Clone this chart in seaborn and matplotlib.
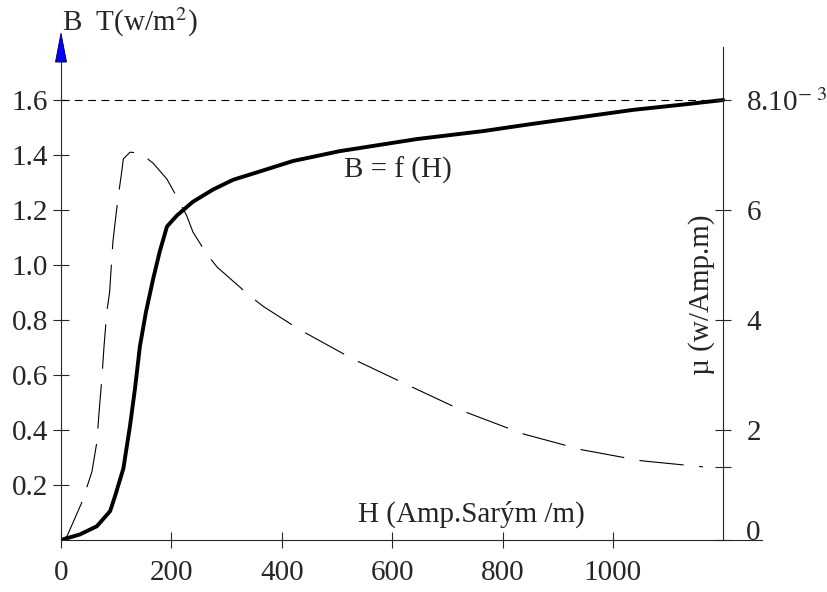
import numpy as np
import pandas as pd
import matplotlib.pyplot as plt
import matplotlib.patches as mpatches
import seaborn as sns

# B = f(H) egrisi (okunan degerler)
H_B = [0, 34, 65, 89, 98, 113, 125, 134, 143, 154, 167, 179, 192, 210, 239,
       276, 312, 360, 420, 505, 645, 765, 850, 1036, 1134, 1200]
B = [0, 0.02, 0.05, 0.105, 0.16, 0.26, 0.415, 0.55, 0.705, 0.83, 0.95, 1.05,
     1.14, 1.18, 1.23, 1.275, 1.31, 1.34, 1.378, 1.414, 1.458, 1.487, 1.512,
     1.564, 1.585, 1.6]

# mu egrisi (x 10^-3)
H_mu = [0, 11, 38, 56, 65, 69, 74, 78, 83, 88, 94, 103, 109, 113, 125, 143,
        167, 192, 212, 228, 239, 264, 283, 342, 366, 433, 529, 632, 732, 837,
        944, 1052, 1163]
mu = [0, 0.07, 0.69, 1.24, 1.78, 2.33, 2.93, 3.53, 4.15, 4.5, 5.42, 6.2, 6.62,
      6.93, 7.05, 7.04, 6.85, 6.56, 6.2, 5.89, 5.6, 5.2, 4.96, 4.44, 4.25, 3.82,
      3.29, 2.8, 2.33, 1.93, 1.64, 1.44, 1.33]

x_ticks = [0, 200, 400, 600, 800, 1000]
b_ticks = [0.2, 0.4, 0.6, 0.8, 1.0, 1.2, 1.4, 1.6]
b_labels = ["0.2", "0.4", "0.6", "0.8", "1.0", "1.2", "1.4", "1.6"]
mu_ticks = [0, 2, 4, 6, 8]
mu_labels = ["0", "2", "4", "6", r"8.10$^{-\ 3}$"]

sns.set_style("ticks")
plt.rcParams["font.family"] = ["Liberation Serif", "DejaVu Serif"]
plt.rcParams["mathtext.fontset"] = "stix"
fs = 21

fig = plt.figure(figsize=(8.27, 5.92), dpi=100)
ax = fig.add_axes([61 / 827, 52 / 592, (762 - 61) / 827, (540 - 47) / 592])
ax.set_xlim(0, 1270)
ax.set_ylim(0, 493 / 275)
ax2 = ax.twinx()
ax2.set_ylim(0, 493 / 55)

# egriler
sns.lineplot(x=H_B, y=B, ax=ax, color="black", lw=2.8)
sns.lineplot(x=H_mu, y=mu, ax=ax2, color="black", lw=0.8,
             linestyle=(0, (40, 14)))
ax.hlines(B[-1], 0, H_B[-1], colors="black", lw=0.8,
          linestyles=(0, (7, 5)))

# eksenler
for s in ["top", "right"]:
    ax.spines[s].set_visible(False)
for s in ["top", "left", "bottom"]:
    ax2.spines[s].set_visible(False)
for s in ["left", "bottom"]:
    ax.spines[s].set_linewidth(0.8)
ax.spines["left"].set_bounds(0, 1.738)
ax2.spines["right"].set_position(("data", H_B[-1]))
ax2.spines["right"].set_linewidth(0.8)

ax.set_xticks(x_ticks)
ax.set_xticklabels([str(v) for v in x_ticks])
ax.set_yticks(b_ticks)
ax.set_yticklabels(b_labels)
ax.tick_params(axis="x", direction="inout", length=11, width=0.8, pad=9,
               labelsize=fs)
ax.tick_params(axis="y", direction="inout", length=11, width=0.8, pad=4,
               labelsize=fs)
ax2.set_yticks(mu_ticks)
ax2.set_yticklabels(mu_labels)
ax2.set_yticks([mu[-1]], minor=True)
ax2.tick_params(axis="y", which="both", direction="inout", length=11,
                width=0.8, pad=11, labelsize=fs)
for lab in ax2.get_yticklabels():
    if lab.get_text() == "0":
        lab.set_va("baseline")

# mavi ok
ok = mpatches.Polygon([(-10, 1.738), (10, 1.738), (0, 1.843)], closed=True,
                      facecolor="#0000ff", edgecolor="#000033", lw=0.6,
                      clip_on=False, transform=ax.transData)
ax.add_patch(ok)

# yazilar
fig.text(62 / 827, 1 - 22 / 592, r"B  T(w/m$^2$)", fontsize=fs,
         ha="left", va="center")
ax.text(610, 1.345, "B = f (H)", fontsize=fs, ha="center", va="center")
ax.text(743, 0.095, "H (Amp.Sarým /m)", fontsize=fs, ha="center",
        va="center")
fig.text(702 / 827, 1 - 295 / 592, "µ (w/Amp.m)", fontsize=fs, rotation=90,
         ha="center", va="center")

fig.savefig("out.png", dpi=100)
